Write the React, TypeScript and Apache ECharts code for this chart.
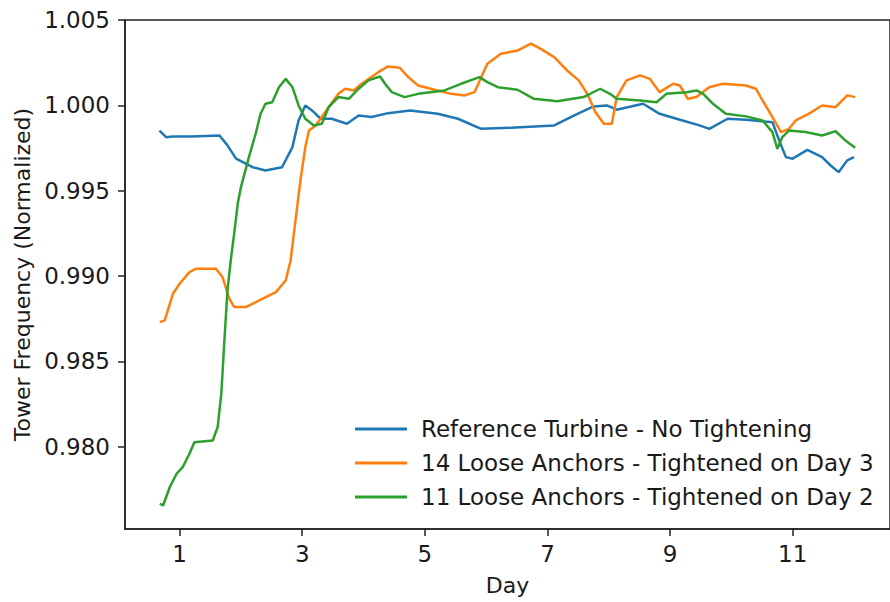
import React, { useEffect, useRef } from "react";
import * as echarts from "echarts";

const xTicks = [1, 3, 5, 7, 9, 11];
const yTicks = [0.98, 0.985, 0.99, 0.995, 1.0, 1.005];

const seriesNames = [
  "Reference Turbine - No Tightening",
  "14 Loose Anchors - Tightened on Day 3",
  "11 Loose Anchors - Tightened on Day 2",
];

const refDays = [0.67, 0.78, 0.89, 1.2, 1.65, 1.78, 1.92, 2.19, 2.4, 2.67, 2.84, 2.94, 3.05, 3.16, 3.3, 3.48, 3.73, 3.92, 4.13, 4.4, 4.76, 5.21, 5.54, 5.92, 6.4, 7.11, 7.43, 7.75, 7.97, 8.13, 8.56, 8.83, 9.16, 9.48, 9.64, 9.94, 10.24, 10.67, 10.78, 10.89, 11.0, 11.24, 11.48, 11.62, 11.75, 11.89, 12.0];
const refVals = [0.99853, 0.99814, 0.99818, 0.99818, 0.99824, 0.99766, 0.99688, 0.99638, 0.99619, 0.99638, 0.99756, 0.99912, 1.0, 0.99971, 0.99922, 0.99922, 0.99893, 0.99941, 0.99932, 0.99955, 0.99971, 0.99951, 0.99922, 0.99863, 0.99869, 0.99883, 0.99941, 0.99994, 1.0, 0.99975, 1.0001, 0.99951, 0.99916, 0.99883, 0.99863, 0.99922, 0.99916, 0.99902, 0.99795, 0.99697, 0.99688, 0.9974, 0.99697, 0.99648, 0.99609, 0.99678, 0.99697];

const d3Days = [0.676, 0.757, 0.89, 1.0, 1.16, 1.27, 1.59, 1.7, 1.81, 1.89, 2.08, 2.3, 2.57, 2.73, 2.81, 2.89, 2.97, 3.05, 3.11, 3.22, 3.43, 3.59, 3.7, 3.84, 3.97, 4.24, 4.4, 4.59, 4.73, 4.89, 5.16, 5.43, 5.65, 5.81, 5.92, 6.02, 6.24, 6.51, 6.73, 6.89, 7.11, 7.32, 7.51, 7.65, 7.78, 7.92, 8.05, 8.13, 8.29, 8.51, 8.67, 8.83, 9.05, 9.16, 9.29, 9.43, 9.64, 9.86, 10.24, 10.4, 10.51, 10.67, 10.81, 10.94, 11.05, 11.26, 11.48, 11.7, 11.89, 12.02];
const d3Vals = [0.9873, 0.9874, 0.98896, 0.98955, 0.99023, 0.99043, 0.99043, 0.98994, 0.98867, 0.98818, 0.98818, 0.98857, 0.98906, 0.98974, 0.99091, 0.99326, 0.9956, 0.99756, 0.99853, 0.99883, 0.9999, 1.00068, 1.00098, 1.00088, 1.00127, 1.00195, 1.00229, 1.00221, 1.00166, 1.00117, 1.00092, 1.00068, 1.00059, 1.00078, 1.00166, 1.00244, 1.00303, 1.00322, 1.00362, 1.00332, 1.00283, 1.00205, 1.00147, 1.00068, 0.99961, 0.99893, 0.99893, 1.00049, 1.00147, 1.00176, 1.00156, 1.00078, 1.00127, 1.00117, 1.00039, 1.00049, 1.00107, 1.00127, 1.00117, 1.00098, 1.00029, 0.99932, 0.99844, 0.99863, 0.99912, 0.99951, 1.0, 0.9999, 1.00059, 1.00049];

const d2Days = [0.676, 0.73, 0.84, 0.95, 1.05, 1.16, 1.24, 1.54, 1.62, 1.68, 1.73, 1.78, 1.84, 1.89, 1.95, 2.0, 2.13, 2.24, 2.32, 2.4, 2.51, 2.62, 2.73, 2.84, 2.94, 3.05, 3.19, 3.32, 3.43, 3.59, 3.76, 3.92, 4.08, 4.27, 4.35, 4.46, 4.67, 4.89, 5.32, 5.59, 5.89, 6.02, 6.19, 6.51, 6.78, 7.16, 7.59, 7.86, 8.02, 8.13, 8.51, 8.78, 8.94, 9.27, 9.43, 9.54, 9.7, 9.91, 10.24, 10.51, 10.67, 10.75, 10.83, 10.94, 11.21, 11.48, 11.7, 11.86, 12.02];
const d2Vals = [0.97665, 0.97655, 0.97763, 0.97841, 0.9788, 0.97958, 0.98026, 0.98036, 0.98114, 0.9831, 0.98622, 0.98916, 0.99111, 0.9925, 0.9943, 0.99521, 0.99697, 0.99834, 0.99951, 1.0001, 1.00019, 1.00107, 1.00156, 1.00107, 1.0, 0.99922, 0.99883, 0.99893, 0.9999, 1.00049, 1.00039, 1.00098, 1.00147, 1.0017, 1.00127, 1.00078, 1.00049, 1.00068, 1.00088, 1.00127, 1.00166, 1.00137, 1.00107, 1.00092, 1.00039, 1.00025, 1.00049, 1.00098, 1.00068, 1.00039, 1.00029, 1.00019, 1.00068, 1.00078, 1.00088, 1.00068, 1.0001, 0.99951, 0.99936, 0.99912, 0.99844, 0.99746, 0.99814, 0.99853, 0.99844, 0.99824, 0.99849, 0.99795, 0.99752];

const colors = ["#1f77b4", "#ff7f0e", "#2ca02c"];

const pairs = (xs: number[], ys: number[]) => xs.map((x, i) => [x, ys[i]]);

export default function App() {
  const ref = useRef<HTMLDivElement>(null);
  useEffect(() => {
    if (!ref.current) return;
    const chart = echarts.init(ref.current, null, { renderer: "svg" });
    const font = "DejaVu Sans";
    const textColor = "#1a1a1a";
    const axisColor = "#222";
    const allData = [pairs(refDays, refVals), pairs(d3Days, d3Vals), pairs(d2Days, d2Vals)];
    chart.setOption({
      animation: false,
      backgroundColor: "#ffffff",
      color: colors,
      grid: {
        left: 125,
        top: 20,
        right: -5,
        bottom: 73,
        show: true,
        borderColor: axisColor,
        borderWidth: 1.5,
        backgroundColor: "transparent",
      },
      legend: {
        orient: "vertical",
        left: 350,
        top: 412,
        data: seriesNames,
        icon: "rect",
        itemWidth: 52,
        itemHeight: 3,
        itemGap: 10,
        textStyle: {
          fontFamily: font,
          fontSize: 23,
          color: textColor,
          lineHeight: 24,
          padding: [0, 0, 0, 9],
        },
      },
      xAxis: {
        type: "value",
        min: 0.1086,
        max: 12.588,
        name: "Day",
        nameLocation: "middle",
        nameGap: 45,
        nameTextStyle: { fontFamily: font, fontSize: 22, color: textColor },
        axisLine: { show: true, onZero: false, lineStyle: { color: axisColor, width: 1.5 } },
        axisTick: { show: true, length: 7, inside: false, customValues: xTicks, lineStyle: { color: axisColor, width: 1.5 } },
        axisLabel: { customValues: xTicks, margin: 13, fontFamily: font, fontSize: 23, color: textColor },
        splitLine: { show: false },
      },
      yAxis: {
        type: "value",
        min: 0.97517,
        max: 1.00501,
        name: "Tower Frequency (Normalized)",
        nameLocation: "middle",
        nameGap: 92,
        nameTextStyle: { fontFamily: font, fontSize: 22, color: textColor },
        axisLine: { show: true, onZero: false, lineStyle: { color: axisColor, width: 1.5 } },
        axisTick: { show: true, length: 7, inside: false, customValues: yTicks, lineStyle: { color: axisColor, width: 1.5 } },
        axisLabel: {
          customValues: yTicks,
          margin: 15,
          fontFamily: font,
          fontSize: 23,
          color: textColor,
          formatter: (v: number) => v.toFixed(3),
        },
        splitLine: { show: false },
      },
      series: seriesNames.map((name, i) => ({
        name,
        type: "line",
        data: allData[i],
        showSymbol: false,
        symbol: "none",
        lineStyle: { width: 2.5, color: colors[i] },
        itemStyle: { color: colors[i] },
        z: 2 + i,
      })),
    });
    return () => chart.dispose();
  }, []);
  return (
    <div
      ref={ref}
      style={{ position: "absolute", left: 0, top: 0, width: 890, height: 602, background: "#fff" }}
    />
  );
}
